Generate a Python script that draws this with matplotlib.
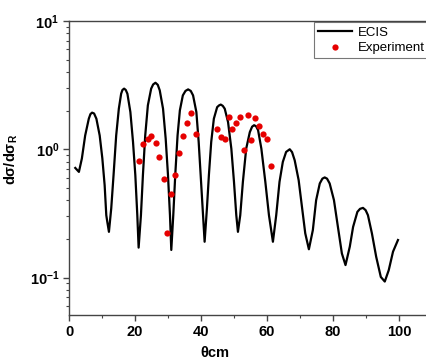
import numpy as np
import matplotlib
matplotlib.use('Agg')
import matplotlib.pyplot as plt
from matplotlib.ticker import FixedLocator, NullFormatter, LogLocator

plt.rcParams['font.family'] = ['Liberation Sans', 'DejaVu Sans']
plt.rcParams['mathtext.fontset'] = 'custom'
plt.rcParams['mathtext.bf'] = 'Liberation Sans:bold'
plt.rcParams['mathtext.rm'] = 'Liberation Sans:bold'
plt.rcParams['mathtext.default'] = 'bf'

# ECIS calculation
ecis_theta = [1.9, 3.0, 3.9, 4.9, 6.0, 6.5, 7.0, 7.6, 8.3, 9.3, 10.1, 10.8, 11.3, 11.6, 12.1,
              12.8, 13.5, 14.3, 15.1, 15.8, 16.2, 16.7, 17.2, 17.7, 18.6, 19.4, 20.1, 20.7, 21.1,
              21.8, 22.4, 23.1, 23.9, 24.9, 25.5, 26.2, 26.9, 27.5, 28.5, 29.3, 30.0, 30.6, 31.0,
              31.6, 32.2, 32.9, 33.6, 34.5, 35.3, 36.1, 36.9, 37.6, 38.6, 39.3, 39.9, 40.5, 41.1,
              41.8, 42.4, 43.1, 43.9, 44.9, 45.5, 46.0, 46.6, 47.2, 48.2, 49.2, 50.0, 50.7, 51.2,
              51.9, 52.7, 53.7, 54.8, 55.5, 56.1, 56.7, 57.3, 58.3, 59.5, 60.6, 61.8, 62.8, 63.8,
              64.8, 65.8, 66.9, 67.6, 68.4, 69.6, 70.6, 71.6, 72.7, 73.9, 74.9, 76.0, 76.8, 77.5,
              78.2, 79.0, 80.3, 81.5, 82.7, 83.8, 85.1, 86.1, 87.4, 88.2, 89.1, 89.9, 90.6, 91.8,
              93.1, 94.5, 95.7, 96.9, 98.2, 99.7]
ecis_ratio = [0.715, 0.666, 0.847, 1.28, 1.73, 1.88, 1.93, 1.90, 1.73, 1.28, 0.85, 0.525, 0.306, 0.272, 0.227,
              0.346, 0.628, 1.28, 2.07, 2.71, 2.90, 2.97, 2.90, 2.71, 1.95, 1.14, 0.628, 0.306, 0.171,
              0.306, 0.628, 1.28, 2.2, 2.97, 3.2, 3.3, 3.18, 2.88, 2.07, 1.21, 0.628, 0.306, 0.164,
              0.306, 0.63, 1.28, 2.01, 2.63, 2.85, 2.93, 2.85, 2.63, 1.95, 1.14, 0.63, 0.346, 0.19,
              0.346, 0.63, 1.14, 1.73, 2.13, 2.2, 2.23, 2.18, 2.07, 1.63, 1.01, 0.557, 0.306, 0.227,
              0.306, 0.557, 1.01, 1.36, 1.5, 1.54, 1.51, 1.41, 1.01, 0.557, 0.306, 0.19, 0.306, 0.557,
              0.796, 0.953, 1.0, 0.95, 0.82, 0.574, 0.356, 0.221, 0.166, 0.234, 0.401, 0.541, 0.59, 0.603,
              0.59, 0.541, 0.401, 0.248, 0.154, 0.125, 0.174, 0.248, 0.325, 0.343, 0.349, 0.335, 0.306, 0.221,
              0.145, 0.101, 0.093, 0.114, 0.159, 0.196]

# measured points
exp_theta = [21.2, 22.5, 23.9, 24.9, 26.3, 27.3, 28.7, 29.8, 31.0, 32.2, 33.3,
             34.5, 35.8, 37.1, 38.4, 44.8, 46.0, 47.2, 48.4, 49.5, 50.7, 51.9,
             53.0, 54.2, 55.2, 56.5, 57.6, 58.8, 60.0, 61.1]
exp_ratio = [0.81, 1.09, 1.21, 1.26, 1.12, 0.87, 0.59, 0.223, 0.45, 0.63, 0.94,
             1.28, 1.61, 1.92, 1.31, 1.43, 1.24, 1.20, 1.77, 1.45, 1.60, 1.77,
             0.98, 1.86, 1.19, 1.75, 1.51, 1.31, 1.21, 0.74]

fig = plt.figure(figsize=(4.27, 3.64), dpi=100)
ax = fig.add_axes([0.1616, 0.1346, 0.85, 0.8077])

ax.plot(ecis_theta, ecis_ratio, color='black', lw=1.6, label='ECIS')
ax.plot(exp_theta, exp_ratio, 'o', color='#e60000', ms=4.5, mew=0, label='Experiment')

ax.set_yscale('log')
ax.set_ylim(0.051, 10)
ax.set_xlim(0, 110)
ax.xaxis.set_major_locator(FixedLocator([0, 20, 40, 60, 80, 100]))
ax.xaxis.set_minor_locator(FixedLocator([10, 30, 50, 70, 90]))
ax.yaxis.set_major_locator(FixedLocator([0.1, 1, 10]))
ax.yaxis.set_minor_locator(LogLocator(base=10, subs=np.arange(2, 10)))
ax.yaxis.set_minor_formatter(NullFormatter())
ax.set_yticklabels([r'$10^{-1}$', r'$10^{0}$', r'$10^{1}$'])
ax.set_xticklabels(['0', '20', '40', '60', '80', '100'])

for lab in ax.get_xticklabels() + ax.get_yticklabels():
    lab.set_fontweight('bold')
    lab.set_fontsize(10.5)

ax.tick_params(which='major', direction='out', length=4, width=1, color='#444444', pad=3)
ax.tick_params(which='minor', direction='out', length=2.5, width=0.8, color='#444444')
ax.tick_params(top=False, right=False)
for s in ax.spines.values():
    s.set_color('#444444')
    s.set_linewidth(1.0)

ax.set_xlabel('θcm', fontsize=10.5, fontweight='bold')
ax.xaxis.set_label_coords(0.402, -0.105)
ax.set_ylabel('dσ/dσ$_{R}$', fontsize=10.5, fontweight='bold')
ax.yaxis.set_label_coords(-0.135, 0.53)

leg = ax.legend(loc='upper left', bbox_to_anchor=(0.675, 0.995), borderaxespad=0,
                fontsize=9.5, frameon=True, fancybox=False, handlelength=2.6,
                handletextpad=0.4, borderpad=0.3, labelspacing=0.25)
leg.get_frame().set_edgecolor('#555555')
leg.get_frame().set_linewidth(0.8)

fig.savefig('out.png', dpi=100)
